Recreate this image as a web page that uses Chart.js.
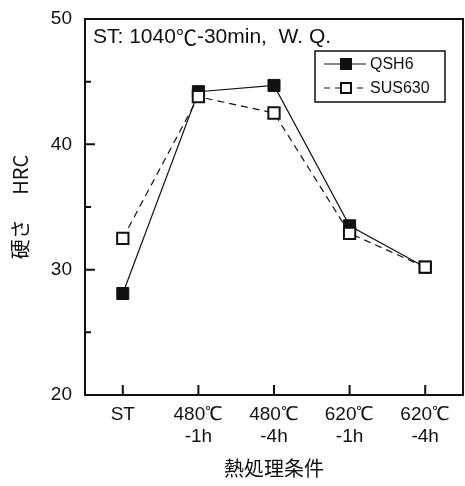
<!DOCTYPE html>
<html lang="ja">
<head>
<meta charset="UTF-8">
<title>硬さ HRC</title>
<script src="https://cdn.jsdelivr.net/npm/chart.js@4.4.0"></script>
<style>
  html, body { margin: 0; padding: 0; background: #fff; overflow: hidden; }
  canvas { display: block; }
</style>
</head>
<body>
<canvas id="c" width="465" height="486"></canvas>
<script>
const categories = [['ST', ''], ['480℃', '-1h'], ['480℃', '-4h'], ['620℃', '-1h'], ['620℃', '-4h']];
const qsh6 = [28.1, 44.2, 44.7, 33.5, 30.2];
const sus630 = [32.5, 43.8, 42.5, 32.9, 30.2];
const yTicksMajor = [30, 40];
const yTicksMinor = [25, 35, 45];

const latin = '"Liberation Sans", Arial, sans-serif';
const cjk = '"Noto Sans CJK JP", sans-serif';

// frame, inward ticks, note and legend
const decor = {
  id: 'decor',
  afterDatasetsDraw(chart) {
    const { ctx, chartArea: a, scales: { x, y } } = chart;
    ctx.save();
    ctx.strokeStyle = '#111';
    ctx.lineWidth = 2;
    ctx.strokeRect(a.left, a.top, a.right - a.left, a.bottom - a.top);
    ctx.beginPath();
    yTicksMajor.forEach(v => { const p = y.getPixelForValue(v); ctx.moveTo(a.left, p); ctx.lineTo(a.left + 10, p); });
    yTicksMinor.forEach(v => { const p = y.getPixelForValue(v); ctx.moveTo(a.left, p); ctx.lineTo(a.left + 6, p); });
    categories.forEach((c, i) => { const p = x.getPixelForValue(i); ctx.moveTo(p, a.bottom); ctx.lineTo(p, a.bottom - 10); });
    ctx.stroke();

    // note: ST: 1040℃-30min,  W. Q.
    ctx.fillStyle = '#111';
    ctx.textBaseline = 'middle';
    let tx = a.left + 8;
    const ty = a.top + 18;
    [['ST: 1040', latin], ['℃', cjk], ['-30min,  W. Q.', latin]].forEach(([s, f]) => {
      ctx.font = '21px ' + f;
      ctx.fillText(s, tx, ty);
      tx += ctx.measureText(s).width;
    });

    // legend box
    ctx.lineWidth = 1.5;
    ctx.strokeRect(315, 51, 130, 51);
    ctx.font = '16px ' + latin;
    const rows = [[64, 'QSH6', [], '#111'], [88, 'SUS630', [6, 5], '#fff']];
    rows.forEach(([ry, label, dash, fill]) => {
      ctx.lineWidth = 1;
      ctx.setLineDash(dash);
      ctx.beginPath(); ctx.moveTo(324, ry); ctx.lineTo(366, ry); ctx.stroke();
      ctx.setLineDash([]);
      ctx.fillStyle = fill;
      ctx.fillRect(340, ry - 6, 12, 12);
      ctx.lineWidth = 2;
      ctx.strokeRect(341, ry - 5, 10, 10);
      ctx.fillStyle = '#111';
      ctx.fillText(label, 370, ry + 1);
    });
    ctx.restore();
  }
};

new Chart(document.getElementById('c'), {
  type: 'line',
  data: {
    labels: categories,
    datasets: [
      {
        label: 'SUS630', data: sus630,
        borderColor: '#111', borderWidth: 1.2, borderDash: [7, 5],
        pointStyle: 'rect', pointRadius: 8, pointBorderWidth: 2,
        pointBackgroundColor: '#fff', pointBorderColor: '#111', tension: 0
      },
      {
        label: 'QSH6', data: qsh6,
        borderColor: '#111', borderWidth: 1.2,
        pointStyle: 'rect', pointRadius: 8.5, pointBorderWidth: 1,
        pointBackgroundColor: '#111', pointBorderColor: '#111', tension: 0
      }
    ]
  },
  options: {
    responsive: false,
    animation: false,
    layout: { autoPadding: false, padding: { top: 19, right: 2, left: 0, bottom: 0 } },
    plugins: { legend: { display: false }, tooltip: { enabled: false } },
    scales: {
      x: {
        offset: true,
        grid: { display: false, drawTicks: false },
        border: { display: false },
        ticks: { color: '#111', padding: 8, font: { family: latin, size: 19, lineHeight: 1.2 }, maxRotation: 0 },
        title: { display: true, text: '熱処理条件', color: '#111', font: { family: cjk, size: 20 }, padding: { top: 4, bottom: 6 } },
        afterFit(s) { s.height = 91; s.paddingLeft = 0; s.paddingRight = 0; }
      },
      y: {
        min: 20, max: 50,
        grid: { display: false, drawTicks: false },
        border: { display: false },
        ticks: { stepSize: 10, color: '#111', padding: 13, font: { family: latin, size: 19 } },
        title: { display: true, text: '硬さ　 HRC', color: '#111', font: { family: cjk, size: 20 }, padding: { top: 8, bottom: 4 } },
        afterFit(s) { s.width = 85; s.paddingTop = 0; s.paddingBottom = 0; }
      }
    }
  },
  plugins: [decor]
});
</script>
</body>
</html>
